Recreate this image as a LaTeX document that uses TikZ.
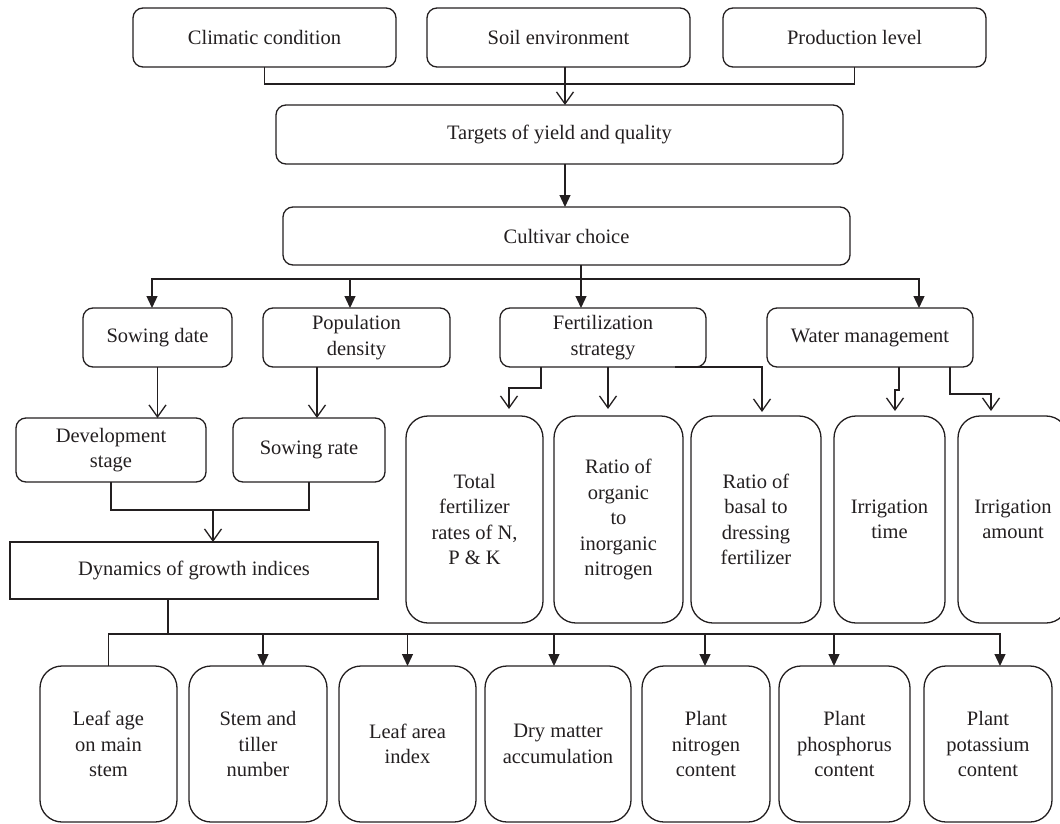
\documentclass[tikz,border=0pt]{standalone}
\usepackage{fontspec}
\setmainfont{Liberation Serif}
\usetikzlibrary{arrows.meta}
\definecolor{ink}{HTML}{231F20}
\begin{document}
\begin{tikzpicture}[x=1pt,y=-1pt,
  every node/.style={font=\fontsize{20.5}{25.5}\selectfont, text=ink},
  box/.style={draw=ink, line width=1.3pt, rounded corners=10pt, inner sep=0pt, outer sep=0pt, align=center},
  tallbox/.style={box, rounded corners=22pt},
  sqbox/.style={box, rounded corners=0pt},
  conn/.style={draw=ink, line width=1.3pt},
  farr/.style={conn, -{Triangle[length=12pt,width=11pt]}},
  oarr/.style={conn, -{Straight Barb[length=12pt,width=17pt,line width=1.3pt]}},
]
\useasboundingbox (0,0) rectangle (1060,824);

% top row
\node[box, minimum width=263pt, minimum height=59pt] (clim) at (264.5,37.5) {Climatic condition};
\node[box, minimum width=263pt, minimum height=59pt] (soil) at (558.5,37.5) {Soil environment};
\node[box, minimum width=263pt, minimum height=59pt] (prod) at (854.5,37.5) {Production level};
\node[box, minimum width=567pt, minimum height=59pt] (targ) at (559.5,134.5) {Targets of yield and quality};
\node[box, minimum width=567pt, minimum height=58pt] (cult) at (566.5,236) {Cultivar choice};

% second row
\node[box, minimum width=149pt, minimum height=59pt] (sow) at (157.5,337.5) {Sowing date};
\node[box, minimum width=187pt, minimum height=59pt] (pop) at (356.5,337.5) {Population\\density};
\node[box, minimum width=206pt, minimum height=59pt] (fert) at (603,337.5) {Fertilization\\strategy};
\node[box, minimum width=206pt, minimum height=59pt] (water) at (870,337.5) {Water management};

% third row left
\node[box, minimum width=190pt, minimum height=64pt] (dev) at (111,450) {Development\\stage};
\node[box, minimum width=152pt, minimum height=64pt] (srate) at (309,450) {Sowing rate};
\node[sqbox, minimum width=368pt, minimum height=57pt] (dyn) at (194,570.5) {Dynamics of growth indices};

% tall boxes
\node[tallbox, minimum width=137pt, minimum height=207pt] (total) at (474.5,519.5) {Total\\fertilizer\\rates of N,\\P \& K};
\node[tallbox, minimum width=129pt, minimum height=207pt] (org) at (618.5,519.5) {Ratio of\\organic\\to\\inorganic\\nitrogen};
\node[tallbox, minimum width=130pt, minimum height=207pt] (basal) at (756,519.5) {Ratio of\\basal to\\dressing\\fertilizer};
\node[tallbox, minimum width=111pt, minimum height=207pt] (itime) at (889.5,519.5) {Irrigation\\time};
\node[tallbox, minimum width=110pt, minimum height=207pt] (iamt) at (1013,519.5) {Irrigation\\amount};

% bottom row
\node[tallbox, minimum width=137pt, minimum height=156pt] (leaf) at (108.5,744) {Leaf age\\on main\\stem};
\node[tallbox, minimum width=138pt, minimum height=156pt] (stem) at (258,744) {Stem and\\tiller\\number};
\node[tallbox, minimum width=137pt, minimum height=156pt] (lai) at (407.5,744) {Leaf area\\index};
\node[tallbox, minimum width=146pt, minimum height=156pt] (dry) at (558,744) {Dry matter\\accumulation};
\node[tallbox, minimum width=128pt, minimum height=156pt] (pn) at (706,744) {Plant\\nitrogen\\content};
\node[tallbox, minimum width=131pt, minimum height=156pt] (pp) at (844.5,744) {Plant\\phosphorus\\content};
\node[tallbox, minimum width=128pt, minimum height=156pt] (pk) at (988,744) {Plant\\potassium\\content};

% top connectors
\draw[conn] (clim.south) -- ++(0,17) -| (prod.south);
\draw[oarr] ([xshift=6.5pt]soil.south) -- ([xshift=6.5pt]soil.south |- targ.north);
\draw[farr] ([xshift=5.5pt]targ.south) -- ([xshift=5.5pt]targ.south |- cult.north);

% cultivar bus
\coordinate (b1) at (581,279);
\draw[conn] (cult.south -| b1) -- (b1);
\draw[farr] (b1) -| ([xshift=-5.5pt]sow.north);
\draw[farr] (b1) -| ([xshift=-6.5pt]pop.north);
\draw[farr] (b1) -- (fert.north -| b1);
\draw[farr] (b1) -| ([xshift=49pt]water.north);

% second to third
\draw[oarr] (sow.south) -- (sow.south |- dev.north);
\draw[oarr] ([xshift=-39.5pt]pop.south) -- ([xshift=-39.5pt]pop.south |- srate.north);

\draw[oarr, shorten >=7pt] ([xshift=-62pt]fert.south) -- ++(0,21) -| ([xshift=34.5pt]total.north);
\draw[oarr, shorten >=7pt] ([xshift=5pt]fert.south) -- ([xshift=5pt]fert.south |- org.north);
\draw[oarr, shorten >=4pt] ([xshift=72pt]fert.south) -| ([xshift=6pt]basal.north);
\draw[oarr, shorten >=5pt] ([xshift=29pt]water.south) -- ++(0,23) -| ([xshift=5.5pt]itime.north);
\draw[oarr, shorten >=5pt] ([xshift=80pt]water.south) -- ++(0,27) -| ([xshift=-22pt]iamt.north);

% dev/srate to dynamics
\coordinate (j1) at (213,510);
\draw[conn] (dev.south) |- (j1) -| (srate.south);
\draw[oarr] (j1) -- (j1 |- dyn.north);

% dynamics bus
\coordinate (b2) at (168,634);
\draw[conn] (dyn.south -| b2) -- (b2);
\draw[conn] (b2) -| (leaf.north);
\draw[farr] (b2) -| ([xshift=5pt]stem.north);
\draw[farr] (b2) -| (lai.north);
\draw[farr] (b2) -| ([xshift=-4pt]dry.north);
\draw[farr] (b2) -| ([xshift=-1pt]pn.north);
\draw[farr] (b2) -| ([xshift=-10.5pt]pp.north);
\draw[farr] (b2) -| ([xshift=12pt]pk.north);
\end{tikzpicture}
\end{document}
